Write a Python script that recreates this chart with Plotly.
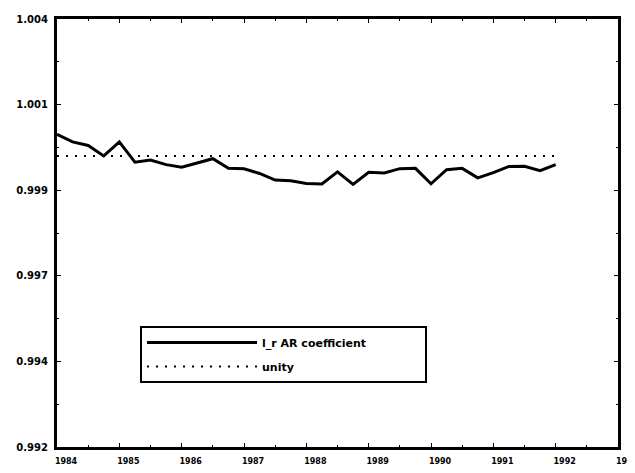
import plotly.graph_objects as go

# Quarterly observations 1984Q1 .. 1992Q1
start_year = 1984
n_quarters = 33
ar_coef = [1.000632, 1.000411, 1.000305, 1.000000, 1.000411, 0.999816, 0.999882, 0.999747,
           0.999672, 0.999796, 0.999920, 0.999641, 0.999624, 0.999489, 0.999296, 0.999276,
           0.999198, 0.999181, 0.999534, 0.999170, 0.999523, 0.999503, 0.999630, 0.999638,
           0.999187, 0.999598, 0.999638, 0.999360, 0.999511, 0.999693, 0.999701, 0.999569,
           0.999750]
unity = [1.0] * n_quarters
dates = [start_year + 0.25 * k for k in range(n_quarters)]

y_tickvals = [0.9915, 0.994, 0.9965, 0.999, 1.0015, 1.004]
y_ticktext = ["0.992", "0.994", "0.997", "0.999", "1.001", "1.004"]
x_tickvals = list(range(1984, 1994))
x_ticktext = [str(v) for v in x_tickvals]

font_family = "DejaVu Sans"
pad = "\u00a0" * 14

fig = go.Figure()
fig.add_trace(go.Scatter(x=dates, y=ar_coef, mode="lines", name="l_r AR coefficient" + pad,
                         legendgroup="a",
                         line=dict(color="black", width=3)))
fig.add_trace(go.Scatter(x=dates, y=unity, mode="lines", name="unity",
                         legendgroup="b",
                         line=dict(color="black", width=2, dash="2px,7px")))

fig.update_layout(
    width=635, height=473,
    margin=dict(l=49, r=13, t=5, b=34),
    paper_bgcolor="white", plot_bgcolor="white",
    font=dict(family=font_family, color="black", size=10, weight="bold"),
    showlegend=True,
    legend=dict(x=0.148, y=0.283, xanchor="left", yanchor="top",
                bordercolor="black", borderwidth=2, bgcolor="white",
                itemwidth=110, traceorder="grouped", tracegroupgap=5,
                font=dict(family=font_family, size=11, weight="bold")),
    xaxis=dict(range=[1984, 1993], tickvals=x_tickvals, ticktext=x_ticktext,
               showgrid=False, zeroline=False,
               showline=True, linecolor="black", linewidth=3, mirror="allticks",
               ticks="inside", ticklen=4, tickwidth=1, tickcolor="black",
               minor=dict(dtick=0.5, ticks="inside", ticklen=2, tickcolor="black"),
               tickfont=dict(size=8, family=font_family, weight="bold"),
               ticklabelshift=9, ticklabelstandoff=4, ticklabeloverflow="allow"),
    yaxis=dict(range=[0.9915, 1.004], tickvals=y_tickvals, ticktext=y_ticktext,
               showgrid=False, zeroline=False,
               showline=True, linecolor="black", linewidth=3, mirror="allticks",
               ticks="inside", ticklen=4, tickwidth=1, tickcolor="black",
               minor=dict(tickvals=[0.99275, 0.99525, 0.99775, 1.00025, 1.00275],
                          ticks="inside", ticklen=2, tickcolor="black"),
               tickfont=dict(size=10, family=font_family, weight="bold"),
               ticklabelstandoff=4),
)

fig.write_html("out.html")
